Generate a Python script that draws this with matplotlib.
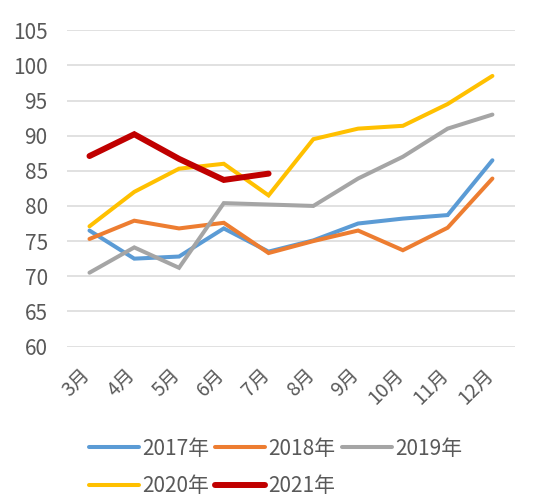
import matplotlib
matplotlib.use("Agg")
import matplotlib.pyplot as plt
import matplotlib.transforms as mtransforms

plt.rcParams['font.family'] = ['Noto Sans CJK SC', 'DejaVu Sans']

months = ["3月", "4月", "5月", "6月", "7月", "8月", "9月", "10月", "11月", "12月"]

y2017 = [76.5, 72.5, 72.8, 76.8, 73.5, 75.1, 77.5, 78.2, 78.7, 86.5]
y2018 = [75.3, 77.9, 76.8, 77.6, 73.3, 75.0, 76.5, 73.7, 76.9, 83.9]
y2019 = [70.5, 74.1, 71.2, 80.4, 80.2, 80.0, 83.9, 87.0, 91.0, 93.0]
y2020 = [77.1, 82.0, 85.3, 86.0, 81.5, 89.5, 91.0, 91.4, 94.5, 98.5]
y2021 = [87.1, 90.2, 86.7, 83.7, 84.6]

series = [
    ("2017年", y2017, '#5B9BD5', 2.9),
    ("2018年", y2018, '#ED7D31', 2.9),
    ("2019年", y2019, '#A5A5A5', 2.9),
    ("2020年", y2020, '#FFC000', 2.9),
    ("2021年", y2021, '#C00000', 4.3),
]

text_color = '#595959'

fig = plt.figure(figsize=(5.5, 5.04), dpi=100)
ax = fig.add_axes([0.122, 0.3125, 0.814, 0.6275])

x = list(range(len(months)))
lines = []
for name, vals, color, lw in series:
    ln, = ax.plot(x[:len(vals)], vals, color=color, linewidth=lw, label=name,
                  solid_capstyle='round', solid_joinstyle='miter')
    lines.append(ln)

ax.set_xlim(-0.5, len(months) - 0.5)
ax.set_ylim(60, 105)
ax.set_yticks(range(60, 106, 5))
ax.set_xticks(x)
ax.set_xticklabels(months, rotation=45, ha='right', rotation_mode='default')
ax.tick_params(axis='both', length=0, labelsize=15, labelcolor=text_color)
ax.tick_params(axis='y', pad=14)
ax.tick_params(axis='x', pad=13, labelsize=14)
ax.grid(True, axis='y', color='#D9D9D9', linewidth=1.1)
ax.set_axisbelow(True)
for s in ax.spines.values():
    s.set_visible(False)

# nudge rotated month labels a little to the right, like Excel does
shift = mtransforms.ScaledTranslation(4 / 72, 0, fig.dpi_scale_trans)
for lbl in ax.get_xticklabels():
    lbl.set_transform(lbl.get_transform() + shift)

# legend fills by column, so reorder to read row-wise like the original
order = [0, 3, 1, 4, 2]
leg = ax.legend([lines[i] for i in order], [series[i][0] for i in order],
                loc='upper center', bbox_to_anchor=(0.465, -0.262), ncol=3,
                frameon=False, fontsize=15, handlelength=2.4, handletextpad=0.15,
                columnspacing=0.3, labelspacing=0.74, borderaxespad=0)
for t in leg.get_texts():
    t.set_color(text_color)
for h in leg.get_lines():
    h.set_solid_capstyle('round')

plt.savefig("out.png", dpi=100)
